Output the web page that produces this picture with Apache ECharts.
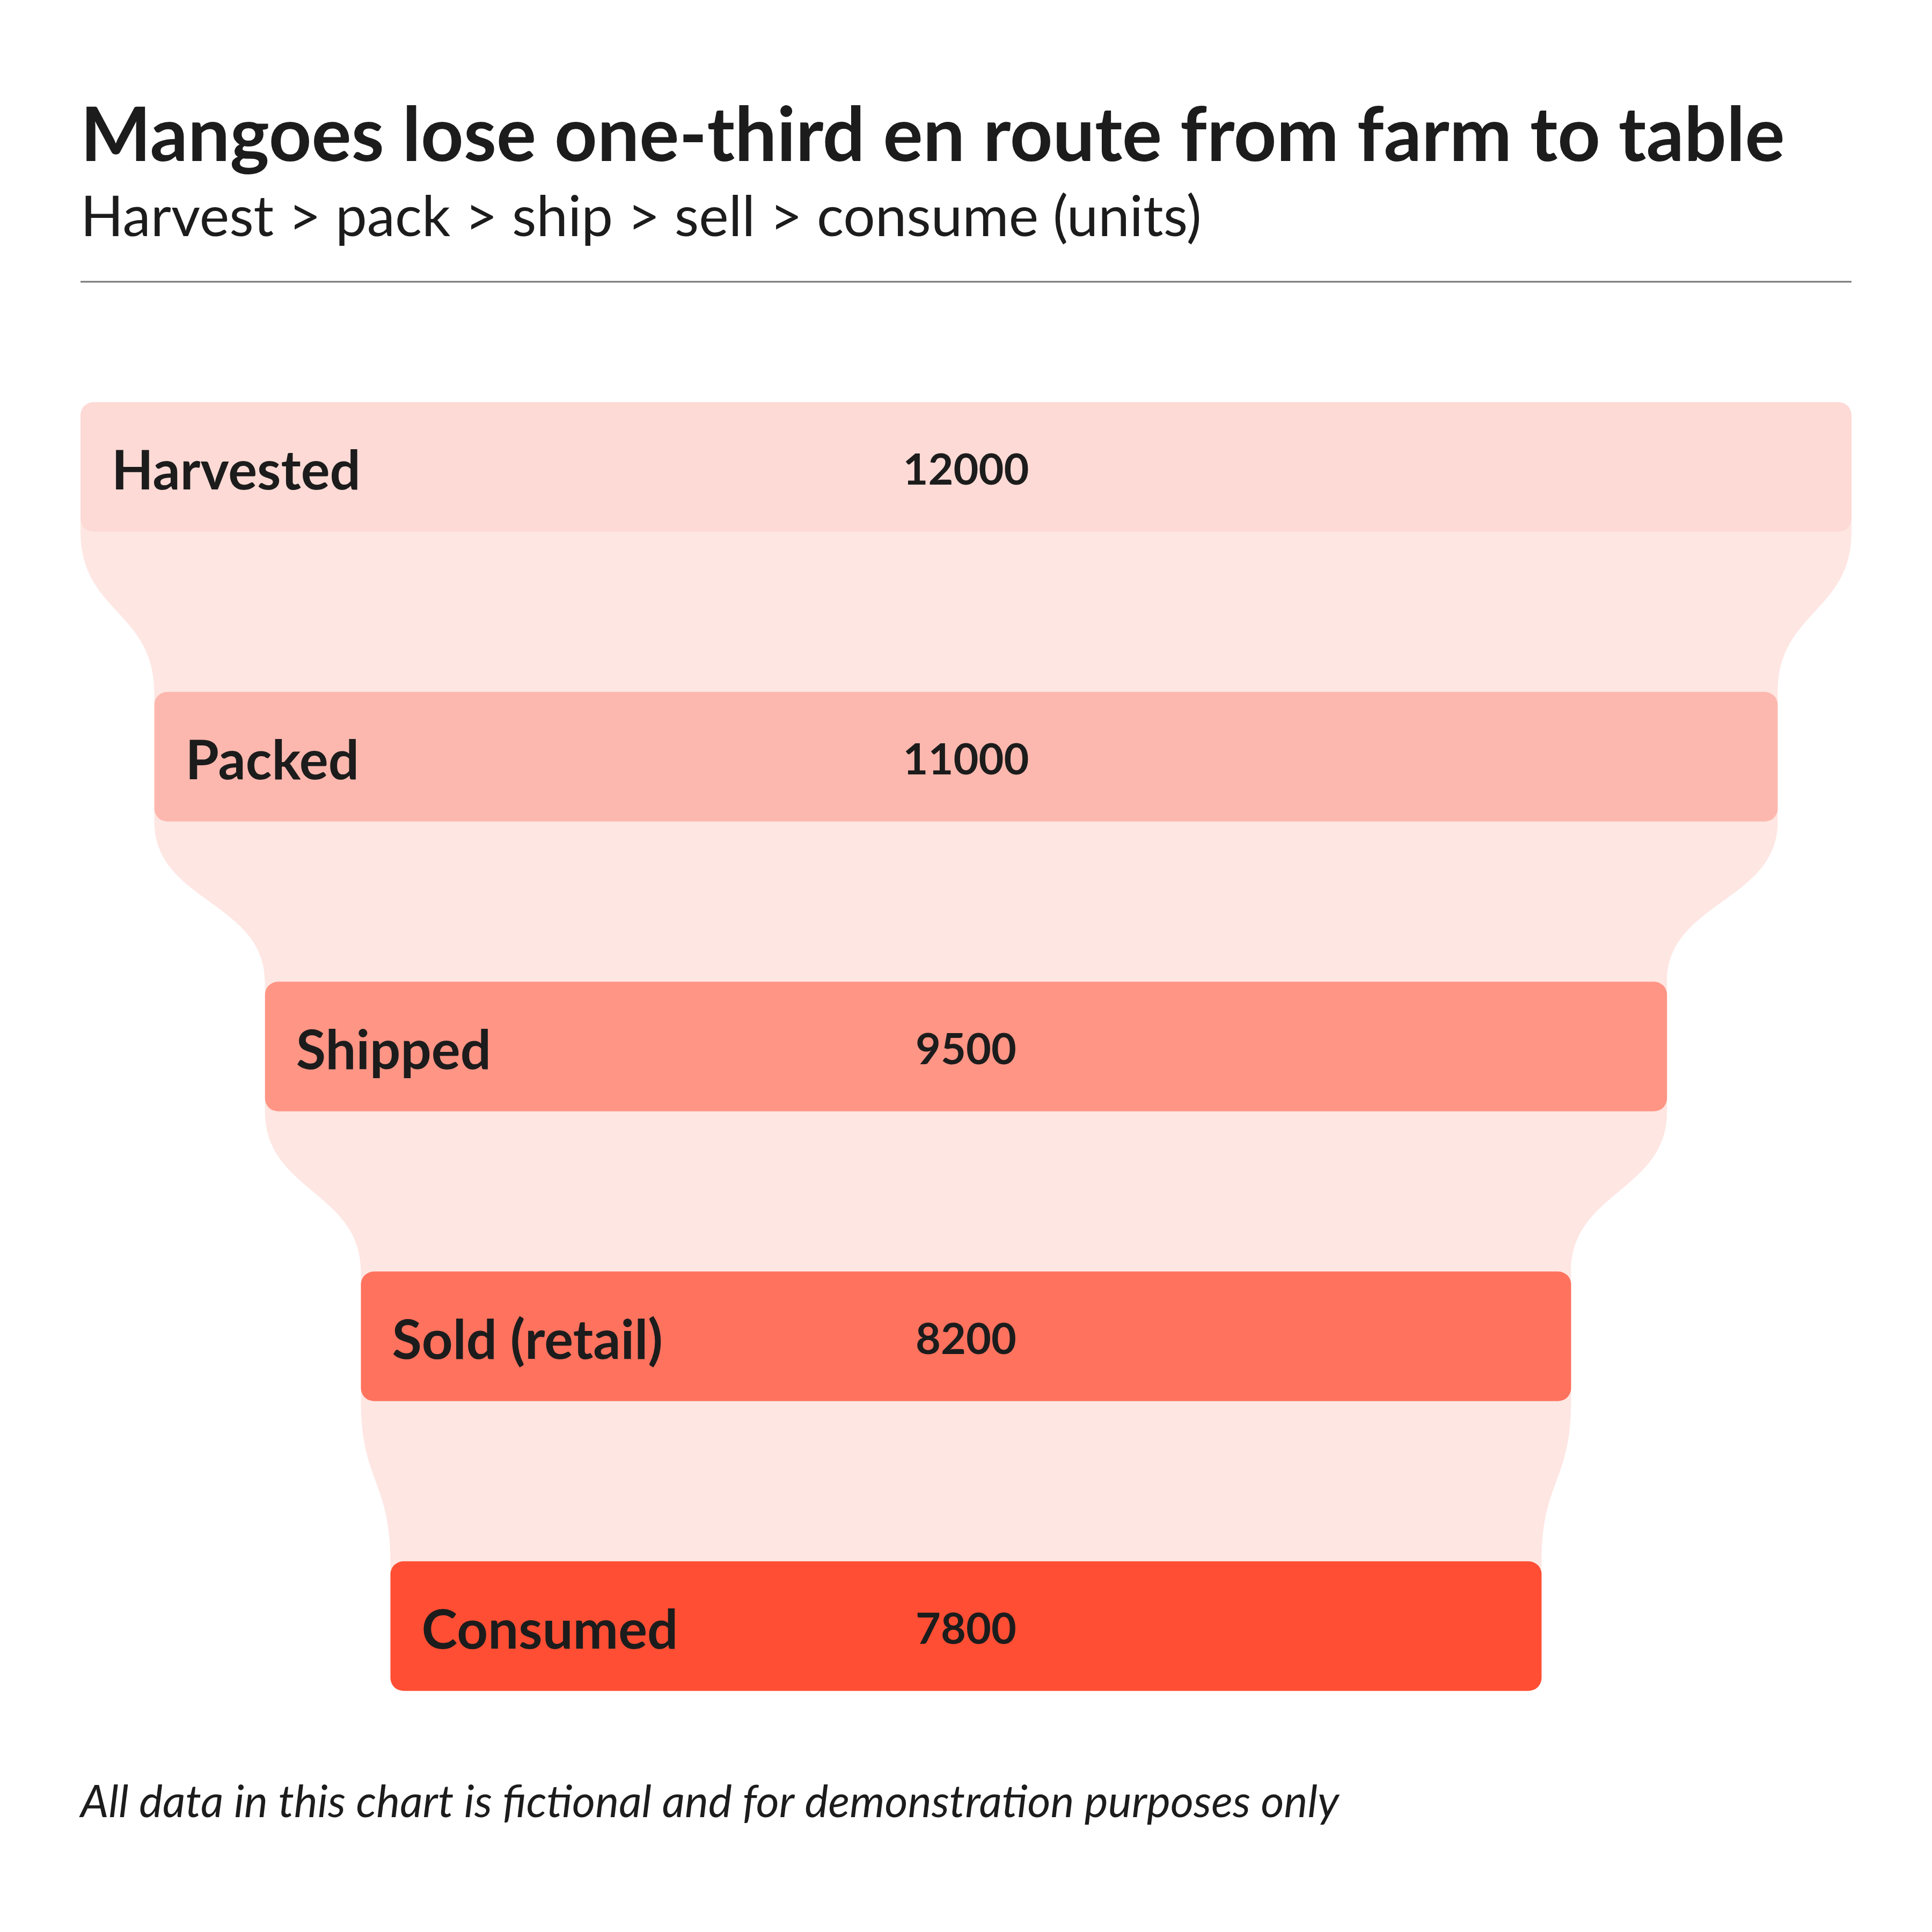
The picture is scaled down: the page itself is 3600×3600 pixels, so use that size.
<!DOCTYPE html>
<html>
<head>
<meta charset="utf-8">
<script src="https://cdn.jsdelivr.net/npm/echarts@6/dist/echarts.min.js"></script>
<style>
html,body{margin:0;padding:0;background:#fff;}
#chart{width:3600px;height:3600px;}
</style>
</head>
<body>
<div id="chart"></div>
<script>
var categories = ['Harvested', 'Packed', 'Shipped', 'Sold (retail)', 'Consumed'];
var values = [12000, 11000, 9500, 8200, 7800];
var barColors = ['#FDDAD5', '#FCB8AE', '#FF9585', '#FF725E', '#FF4E33'];
var connectorColor = '#FEE6E2';
var titleText = 'Mangoes lose one-third en route from farm to table';
var subtitleText = 'Harvest > pack > ship > sell > consume (units)';
var footerText = 'All data in this chart is fictional and for demonstration purposes only';

var FONT = 'Lato, "Noto Sans", sans-serif';
var TXT = '#1c1c1c';
var maxV = Math.max.apply(null, values);

var chart = echarts.init(document.getElementById('chart'), null, {renderer: 'canvas'});
var option = {
  backgroundColor: '#ffffff',
  animation: false,
  grid: {left: 150, right: 150, top: 600, bottom: 300},
  xAxis: {type: 'value', min: -maxV / 2, max: maxV / 2, show: false},
  yAxis: {type: 'category', data: categories, inverse: true, show: false},
  graphic: [
    {type: 'text', left: 150, top: 186, style: {text: titleText, font: 'bold 139px ' + FONT, fill: TXT}},
    {type: 'text', left: 150, top: 354, style: {text: subtitleText, font: '105px ' + FONT, fill: TXT}},
    {type: 'line', shape: {x1: 150, y1: 525, x2: 3450, y2: 525}, style: {stroke: '#777777', lineWidth: 3}},
    {type: 'text', left: 150, top: 3318, style: {text: footerText, font: 'italic 83px ' + FONT, fill: TXT}}
  ],
  series: [{
    type: 'custom',
    clip: false,
    encode: {x: 1, y: 0},
    data: values.map(function (v, i) { return [i, v]; }),
    renderItem: function (params, api) {
      var i = params.dataIndex;
      var v = api.value(1);
      var c = api.coord([0, i]);
      var band = api.size([0, 1])[1];
      var h = band * 0.447;
      var rad = 24;
      var l = api.coord([-v / 2, i])[0];
      var r = api.coord([v / 2, i])[0];
      var children = [];
      if (i < values.length - 1) {
        var v2 = values[i + 1];
        var l2 = api.coord([-v2 / 2, i + 1])[0];
        var r2 = api.coord([v2 / 2, i + 1])[0];
        var c2 = api.coord([0, i + 1]);
        var ya = c[1] + h / 2, yb = c2[1] - h / 2, ym = (ya + yb) / 2;
        var y1 = ya - rad, y2 = yb + rad;
        var d = 'M' + l + ' ' + y1 + ' L' + l + ' ' + ya +
          ' C' + l + ' ' + ym + ' ' + l2 + ' ' + ym + ' ' + l2 + ' ' + yb +
          ' L' + l2 + ' ' + y2 + ' L' + r2 + ' ' + y2 + ' L' + r2 + ' ' + yb +
          ' C' + r2 + ' ' + ym + ' ' + r + ' ' + ym + ' ' + r + ' ' + ya +
          ' L' + r + ' ' + y1 + ' Z';
        children.push({type: 'path', shape: {pathData: d}, style: {fill: connectorColor}});
      }
      children.push({
        type: 'rect',
        shape: {x: l, y: c[1] - h / 2, width: r - l, height: h, r: rad},
        style: {fill: barColors[i]}
      });
      children.push({
        type: 'text',
        style: {x: l + 58, y: c[1] + 9, text: categories[i], font: 'bold 101px ' + FONT, fill: TXT, align: 'left', verticalAlign: 'middle'}
      });
      children.push({
        type: 'text',
        style: {x: c[0], y: c[1] + 7, text: String(v), font: 'bold 81px ' + FONT, fill: TXT, align: 'center', verticalAlign: 'middle'}
      });
      return {type: 'group', children: children};
    }
  }]
};
chart.setOption(option);
</script>
</body>
</html>
